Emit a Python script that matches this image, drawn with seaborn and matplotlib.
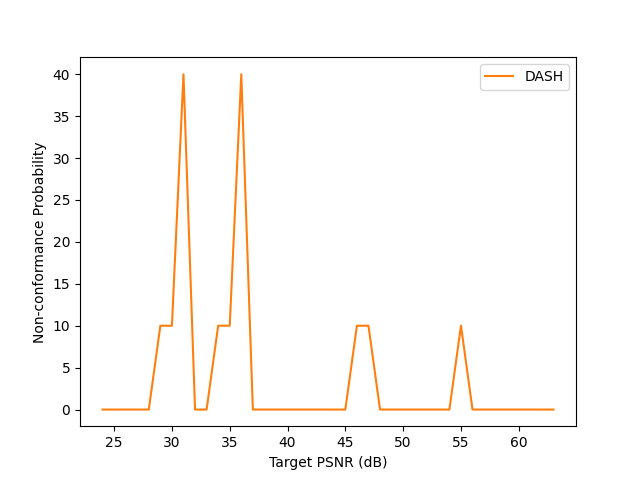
import matplotlib
matplotlib.use('Agg')
import matplotlib.pyplot as plt
import pandas as pd
import seaborn as sns

# Target PSNR values (dB) and non-conformance probability
psnr = list(range(24, 64))
prob = [0, 0, 0, 0, 0, 10, 10, 40, 0, 0,
        10, 10, 40, 0, 0, 0, 0, 0, 0, 0,
        0, 0, 10, 10, 0, 0, 0, 0, 0, 0,
        0, 10, 0, 0, 0, 0, 0, 0, 0, 0]

data = pd.DataFrame({'psnr': psnr, 'prob': prob})

plt.figure(figsize=(6.4, 4.79), dpi=100)
sns.lineplot(x='psnr', y='prob', data=data, color='#ff7f0e', label='DASH')
plt.xlabel('Target PSNR (dB)')
plt.ylabel('Non-conformance Probability')
plt.legend(loc='upper right')
plt.savefig('out.png', dpi=100)
